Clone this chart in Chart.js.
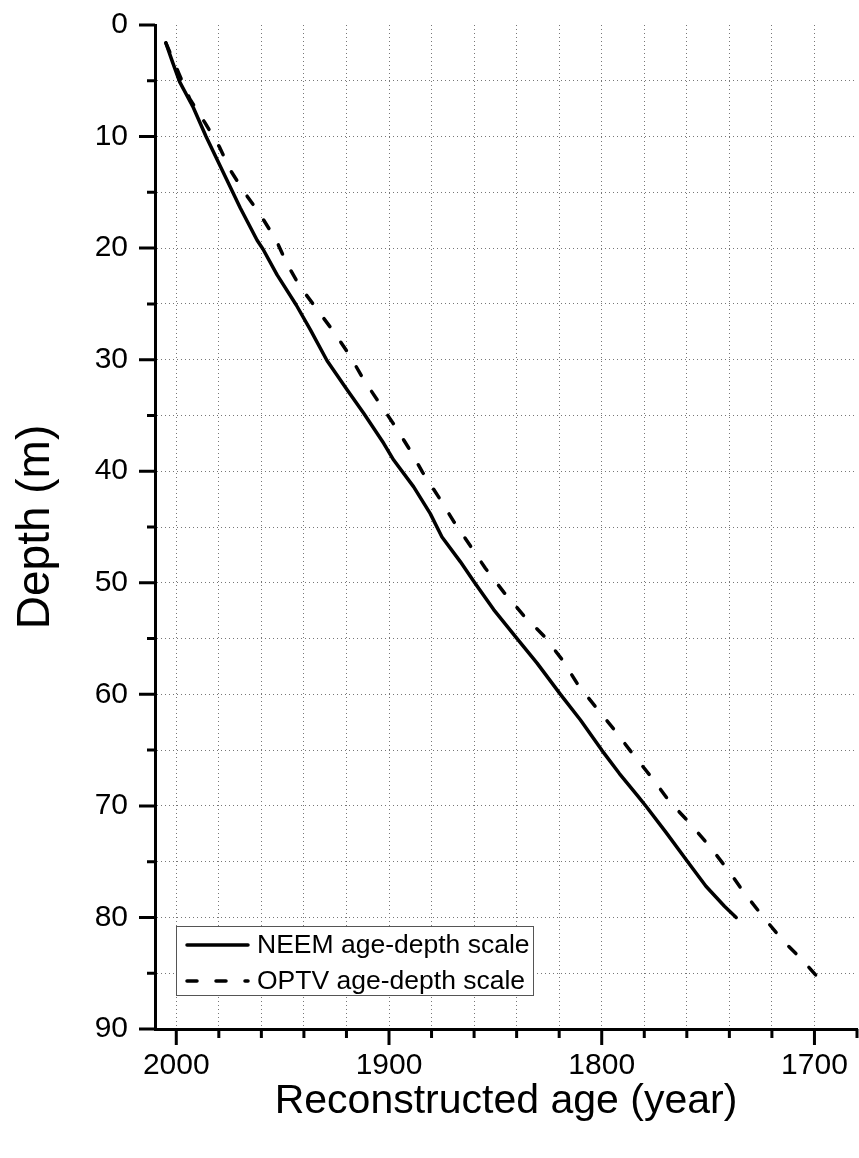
<!DOCTYPE html>
<html>
<head>
<meta charset="utf-8">
<script src="https://cdn.jsdelivr.net/npm/chart.js@4.4.1/dist/chart.umd.min.js"></script>
<style>
  body { margin: 0; background: #fff; }
  canvas { display: block; }
</style>
</head>
<body>
<canvas id="ageDepth" width="859" height="1158"></canvas>
<script>
// NEEM age-depth scale (year, depth in m)
const neemAge = [2004.9, 2001.8, 1998.4, 1992.0, 1986.0, 1976.2, 1969.9, 1962.0, 1959.2, 1952.6,
    1943.6, 1937.0, 1929.1, 1919.7, 1911.9, 1902.5, 1897.8, 1888.4, 1880.6, 1875.1,
    1866.5, 1859.7, 1850.8, 1839.8, 1830.4, 1819.4, 1810.0, 1800.0, 1791.7, 1783.1,
    1778.9, 1769.7, 1759.6, 1751.0, 1742.3, 1736.8];
const neemDepth = [1.6, 3.3, 5.1, 7.4, 10.0, 13.9, 16.4, 19.3, 20.1, 22.4,
    25.1, 27.3, 30.1, 32.7, 34.8, 37.5, 39.0, 41.4, 43.8, 45.9,
    48.1, 50.0, 52.4, 55.0, 57.2, 60.0, 62.3, 65.0, 67.1, 69.1,
    70.1, 72.4, 75.0, 77.2, 79.0, 80.0];

// OPTV age-depth scale
const optvAge = [2004.9, 1998.9, 1993.7, 1986.4, 1979.8, 1974.3, 1967.6, 1960.5, 1953.0, 1948.0,
    1942.0, 1933.8, 1925.6, 1918.2, 1911.9, 1904.1, 1897.0, 1890.8, 1884.2, 1876.7,
    1869.6, 1862.1, 1854.7, 1845.8, 1836.4, 1827.0, 1818.6, 1811.3, 1803.0, 1794.4,
    1785.6, 1776.3, 1768.2, 1758.8, 1749.4, 1740.8, 1733.0, 1724.3, 1715.2, 1705.8,
    1696.4, 1695.8];
const optvDepth = [1.6, 4.3, 6.6, 8.8, 10.9, 13.1, 15.1, 17.0, 19.3, 21.4,
    23.4, 25.5, 27.6, 29.7, 31.8, 34.0, 36.0, 37.9, 40.1, 42.3,
    44.5, 46.6, 48.7, 50.9, 53.0, 54.8, 56.9, 59.1, 61.1, 63.1,
    65.3, 67.5, 69.6, 71.5, 73.6, 75.7, 77.8, 79.9, 82.0, 83.8,
    85.8, 86.0];

// axis ticks
const ageTicks = [2000, 1980, 1960, 1940, 1920, 1900, 1880, 1860, 1840, 1820, 1800, 1780, 1760, 1740, 1720, 1700];
const depthTicks = [0, 5, 10, 15, 20, 25, 30, 35, 40, 45, 50, 55, 60, 65, 70, 75, 80, 85, 90];

const FONT = 'Liberation Sans, Arial, sans-serif';

const toPoints = (xs, ys) => xs.map((x, i) => ({ x: x, y: ys[i] }));

// outward tick marks, long on labelled values
const tickMarks = {
    id: 'tickMarks',
    afterDraw(chart) {
        const { ctx, chartArea: a, scales: { x, y } } = chart;
        ctx.save();
        ctx.strokeStyle = '#000';
        ctx.lineWidth = 3;
        ctx.beginPath();
        depthTicks.forEach(v => {
            const py = y.getPixelForValue(v);
            const len = v % 10 === 0 ? 16 : 8;
            ctx.moveTo(a.left, py);
            ctx.lineTo(a.left - len, py);
        });
        ageTicks.concat([1680]).forEach(v => {
            const px = x.getPixelForValue(v);
            const len = v % 100 === 0 ? 16 : 9;
            ctx.moveTo(px, a.bottom);
            ctx.lineTo(px, a.bottom + len);
        });
        ctx.stroke();
        ctx.restore();
    }
};

// boxed legend in the lower left of the plot
const boxLegend = {
    id: 'boxLegend',
    afterDraw(chart) {
        const { ctx, chartArea: a } = chart;
        const left = a.left + 21, top = 926, w = 357, h = 69;
        ctx.save();
        ctx.fillStyle = '#fff';
        ctx.fillRect(left, top, w, h);
        ctx.strokeStyle = '#555';
        ctx.lineWidth = 1;
        ctx.strokeRect(left + 0.5, top + 0.5, w, h);
        chart.data.datasets.forEach((ds, i) => {
            const yy = top + 19 + i * 36;
            ctx.strokeStyle = ds.borderColor;
            ctx.lineWidth = ds.borderWidth;
            ctx.lineCap = 'round';
            ctx.setLineDash(ds.borderDash || []);
            ctx.beginPath();
            ctx.moveTo(left + 11, yy);
            ctx.lineTo(left + 72, yy);
            ctx.stroke();
            ctx.setLineDash([]);
            ctx.fillStyle = '#000';
            ctx.font = '26.5px ' + FONT;
            ctx.textBaseline = 'middle';
            ctx.fillText(ds.label, left + 81, yy + 1);
        });
        ctx.restore();
    }
};

const ctx = document.getElementById('ageDepth').getContext('2d');
const ageDepthChart = new Chart(ctx, {
    type: 'scatter',
    data: {
        datasets: [{
            label: 'NEEM age-depth scale',
            data: toPoints(neemAge, neemDepth),
            showLine: true,
            borderColor: '#000',
            borderWidth: 3.5,
            pointRadius: 0,
            borderCapStyle: 'round',
            borderJoinStyle: 'round'
        }, {
            label: 'OPTV age-depth scale',
            data: toPoints(optvAge, optvDepth),
            showLine: true,
            borderColor: '#000',
            borderWidth: 3.5,
            borderDash: [10, 19],
            pointRadius: 0,
            borderCapStyle: 'round',
            borderJoinStyle: 'round'
        }]
    },
    options: {
        responsive: false,
        animation: false,
        events: [],
        layout: {
            padding: { top: 25, right: 2, left: 0, bottom: 0 }
        },
        plugins: {
            legend: { display: false },
            tooltip: { enabled: false }
        },
        scales: {
            x: {
                type: 'linear',
                reverse: true,
                min: 1680,
                max: 2010,
                afterBuildTicks: s => { s.ticks = ageTicks.map(v => ({ value: v })); },
                afterFit: s => { s.height = 129; s.paddingLeft = 0; s.paddingRight = 0; },
                border: { display: true, width: 3, color: '#000', dash: [1, 3] },
                grid: {
                    drawTicks: false,
                    color: '#777',
                    lineWidth: 1
                },
                ticks: {
                    padding: 19,
                    color: '#000',
                    font: { family: FONT, size: 30 },
                    maxRotation: 0,
                    autoSkip: false,
                    callback: v => (v % 100 === 0 ? String(v) : '')
                },
                title: {
                    display: true,
                    text: 'Reconstructed age (year)',
                    color: '#000',
                    font: { family: FONT, size: 41 },
                    padding: { top: 0, bottom: 32 }
                }
            },
            y: {
                type: 'linear',
                reverse: true,
                min: 0,
                max: 90,
                afterBuildTicks: s => { s.ticks = depthTicks.map(v => ({ value: v })); },
                afterFit: s => { s.width = 155; s.paddingTop = 0; s.paddingBottom = 0; },
                border: { display: true, width: 3, color: '#000', dash: [1, 3] },
                grid: {
                    drawTicks: false,
                    lineWidth: 1,
                    color: c => (c.tick && (c.tick.value === 0 || c.tick.value === 90) ? 'rgba(0,0,0,0)' : '#777')
                },
                ticks: {
                    padding: 27,
                    color: '#000',
                    font: { family: FONT, size: 30 },
                    autoSkip: false,
                    callback: v => (v % 10 === 0 ? String(v) : '')
                },
                title: {
                    display: true,
                    text: 'Depth (m)',
                    color: '#000',
                    font: { family: FONT, size: 46 },
                    padding: { top: 9, bottom: 0 }
                }
            }
        }
    },
    plugins: [tickMarks, boxLegend]
});
</script>
</body>
</html>
